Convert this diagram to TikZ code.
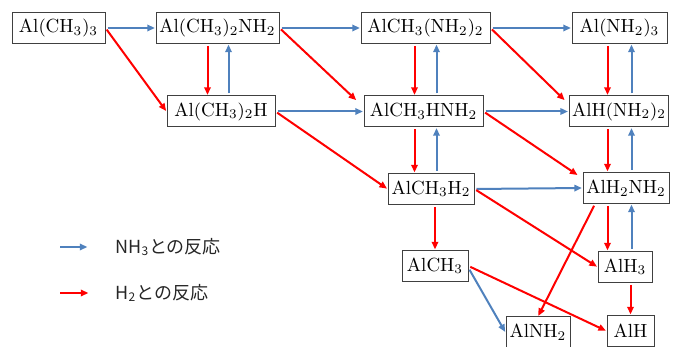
\documentclass[tikz,border=0pt]{standalone}
\usepackage{fontspec}
\newfontfamily\jpfont{Noto Sans CJK JP}
\usepackage{xcolor}
\usepackage{tikz}
\usetikzlibrary{arrows.meta, calc}
\definecolor{nhblue}{RGB}{79,129,189}

\begin{document}
\begin{tikzpicture}[x=0.5pt, y=-0.5pt,
    species/.style={draw=black!75, line width=0.5pt, fill=white, minimum height=15.5pt,
        inner xsep=1.5pt, inner ysep=0pt, font=\fontsize{9.5}{11}\selectfont},
    nh3/.style={nhblue, line width=1pt, -{Triangle[length=3.8pt,width=3.2pt]},
        shorten <=1pt, shorten >=0.3pt},
    h2/.style={red, line width=1pt, -{Triangle[length=3.8pt,width=3.2pt]},
        shorten <=1pt, shorten >=0.3pt},
    legend/.style={font=\jpfont\fontsize{9}{11}\selectfont, text=black!85,
        anchor=west, inner sep=0pt}]
    \useasboundingbox (0,0) rectangle (680,347);

    % Species
    \node[species, minimum width=46.5pt] (AlMe3) at (58.5,28) {$\mathrm{Al(CH_3)_3}$};
    \node[species, minimum width=61.5pt] (AlMe2N) at (217.5,28) {$\mathrm{Al(CH_3)_2NH_2}$};
    \node[species, minimum width=54pt] (AlMe2H) at (221,111.5) {$\mathrm{Al(CH_3)_2H}$};
    \node[species, minimum width=64.5pt] (AlMeN2) at (425.5,28) {$\mathrm{AlCH_3(NH_2)_2}$};
    \node[species, minimum width=47.5pt] (AlN3) at (619.5,28) {$\mathrm{Al(NH_2)_3}$};
    \node[species, minimum width=59.5pt] (AlMeHN) at (423.5,111.5) {$\mathrm{AlCH_3HNH_2}$};
    \node[species, minimum width=48pt] (AlHN2) at (619,111.5) {$\mathrm{AlH(NH_2)_2}$};
    \node[species, minimum width=43pt] (AlMeH2) at (431,189) {$\mathrm{AlCH_3H_2}$};
    \node[species, minimum width=43pt] (AlH2N) at (626,188) {$\mathrm{AlH_2NH_2}$};
    \node[species, minimum width=33pt] (AlMe) at (435,266) {$\mathrm{AlCH_3}$};
    \node[species, minimum width=27pt] (AlH3) at (625,267) {$\mathrm{AlH_3}$};
    \node[species, minimum width=32pt] (AlN) at (538,332.5) {$\mathrm{AlNH_2}$};
    \node[species, minimum width=23.5pt] (AlH) at (630.5,331) {$\mathrm{AlH}$};

    % Reaction with NH3 (blue)
    \draw[nh3] (AlMe3) -- (AlMe2N);
    \draw[nh3] (AlMe2N) -- (AlMeN2);
    \draw[nh3] (AlMeN2) -- (AlN3);
    \draw[nh3] (AlMe2H) -- (AlMeHN);
    \draw[nh3] (AlMeHN) -- (AlHN2);
    \draw[nh3] (AlMeH2.east) -- (AlH2N.west);
    \draw[nh3] ([xshift=5.5pt]AlMe2N.south |- AlMe2H.north) -- ([xshift=5.5pt]AlMe2N.south);
    \draw[nh3] ([xshift=5.5pt]AlMeN2.south |- AlMeHN.north) -- ([xshift=5.5pt]AlMeN2.south);
    \draw[nh3] ([xshift=5.5pt]AlMeN2.south |- AlMeH2.north) -- ([xshift=5.5pt]AlMeN2.south |- AlMeHN.south);
    \draw[nh3] ([xshift=6pt]AlN3.south |- AlHN2.north) -- ([xshift=6pt]AlN3.south);
    \draw[nh3] ([xshift=6pt]AlN3.south |- AlH2N.north) -- ([xshift=6pt]AlN3.south |- AlHN2.south);
    \draw[nh3] ([xshift=6pt]AlN3.south |- AlH3.north) -- ([xshift=6pt]AlN3.south |- AlH2N.south);
    \draw[nh3] ([yshift=-1pt]AlMe.east) -- (AlN.west);

    % Reaction with H2 (red)
    \draw[h2] (AlMe3.east) -- (AlMe2H.west);
    \draw[h2, shorten >=5pt] (AlMe2N.east) -- ([yshift=2.25pt]AlMeHN.west);
    \draw[h2, shorten >=2.75pt] (AlMeN2.east) -- ([yshift=3.75pt]AlHN2.west);
    \draw[h2, shorten >=3pt] (AlMeHN.east) -- ([yshift=4.8pt]AlH2N.west);
    \draw[h2] (AlMe2H.east) -- (AlMeH2.west);
    \draw[h2] (AlMeH2.east) -- (AlH3.west);
    \draw[h2] ([xshift=-15.5pt]AlH2N.south) -- (AlN.north);
    \draw[h2] (AlMe.east) -- (AlH.west);
    \draw[h2] ([xshift=-5pt]AlMe2N.south) -- ([xshift=-5pt]AlMe2N.south |- AlMe2H.north);
    \draw[h2] ([xshift=-5.5pt]AlMeN2.south) -- ([xshift=-5.5pt]AlMeN2.south |- AlMeHN.north);
    \draw[h2] ([xshift=-5.5pt]AlMeN2.south |- AlMeHN.south) -- ([xshift=-5.5pt]AlMeN2.south |- AlMeH2.north);
    \draw[h2] ([xshift=-6pt]AlN3.south) -- ([xshift=-6pt]AlN3.south |- AlHN2.north);
    \draw[h2] ([xshift=-6pt]AlN3.south |- AlHN2.south) -- ([xshift=-6pt]AlN3.south |- AlH2N.north);
    \draw[h2] ([xshift=-6pt]AlN3.south |- AlH2N.south) -- ([xshift=-6pt]AlN3.south |- AlH3.north);
    \draw[h2] (AlMe.north |- AlMeH2.south) -- (AlMe.north);
    \draw[h2] (AlH.north |- AlH3.south) -- (AlH.north);

    % Legend
    \coordinate (nhfrom) at (58,247);
    \coordinate (nhto) at (88,247);
    \coordinate (hfrom) at (58,293);
    \coordinate (hto) at (89,293);
    \draw[nh3] (nhfrom) -- (nhto);
    \draw[h2] (hfrom) -- (hto);
    \node[legend] (nhlabel) at (115,247) {NH\textsubscript{3}との反応};
    \node[legend] (hlabel) at (115,293) {H\textsubscript{2}との反応};
\end{tikzpicture}
\end{document}
